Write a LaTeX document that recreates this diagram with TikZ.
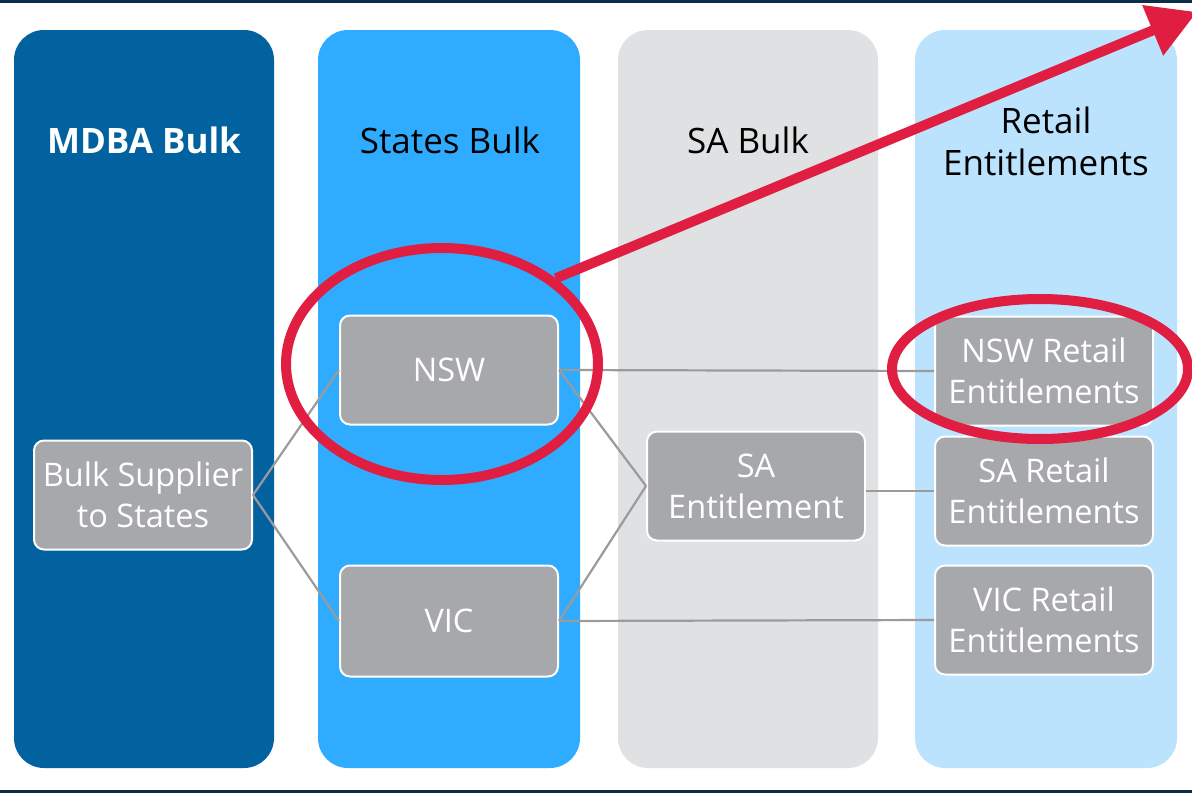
\documentclass[tikz,border=0pt]{standalone}
\usepackage{fontspec}
\setmainfont{Open Sans}
\usetikzlibrary{arrows.meta, shapes.geometric}

\definecolor{mdbablue}{HTML}{0262A0}
\definecolor{statesblue}{HTML}{2FACFF}
\definecolor{sagray}{HTML}{E0E1E3}
\definecolor{retailblue}{HTML}{BCE3FD}
\definecolor{boxgray}{HTML}{A7A8AC}
\definecolor{linkgray}{HTML}{9B9B9B}
\definecolor{ringred}{HTML}{E01E41}
\definecolor{barnavy}{HTML}{0B2D4A}

\tikzset{
  lane/.style={fill=#1, rounded corners=30pt},
  lanehead/.style={align=center, font=\fontsize{35}{42}\selectfont},
  entity/.style={draw=white, line width=2pt, fill=boxgray, rounded corners=10pt,
    minimum width=218pt, minimum height=109pt, inner sep=0pt, align=center,
    text=white, font=\fontsize{32.5}{41}\selectfont},
  link/.style={draw=linkgray, line width=2.2pt},
  ring/.style={draw=ringred, line width=10pt, ellipse, inner sep=0pt},
}

\begin{document}
\begin{tikzpicture}[x=1pt, y=-1pt]
\clip (0,0) rectangle (1192,793);
\fill[white] (0,0) rectangle (1192,793);
% top and bottom rules
\fill[barnavy] (0,0) rectangle (1192,3);
\fill[barnavy] (0,790) rectangle (1192,793);

% lanes
\fill[lane=mdbablue] (14,30) rectangle (274,768);
\fill[lane=statesblue] (318,30) rectangle (580,768);
\fill[lane=sagray] (618,30) rectangle (878,768);
\fill[lane=retailblue] (915,30) rectangle (1177,768);

% lane headings
\node[lanehead, text=white, font=\fontsize{35}{42}\selectfont\bfseries] (mdbahead) at (144,140) {MDBA Bulk};
\node[lanehead] (stateshead) at (450,140) {States Bulk};
\node[lanehead] (sahead) at (748,140) {SA Bulk};
\node[lanehead] (retailhead) at (1046,141) {Retail\\Entitlements};

% entities
\node[entity] (bulk) at (143,495) {Bulk Supplier\\to States};
\node[entity] (nsw) at (449,370) {NSW};
\node[entity, minimum height=111pt] (vic) at (449,621) {VIC};
\node[entity] (saent) at (756,486) {SA\\Entitlement};
\node[entity] (nswret) at (1044,371) {NSW Retail\\Entitlements};
\node[entity] (saret) at (1044,491) {SA Retail\\Entitlements};
\node[entity] (vicret) at (1044,620) {VIC Retail\\Entitlements};

% links
\draw[link] (bulk.east) -- (nsw.west);
\draw[link] (bulk.east) -- (vic.west);
\draw[link] (nsw.east) -- (saent.west);
\draw[link] (vic.east) -- (saent.west);
\draw[link] (nsw.east) -- (nswret.west);
\draw[link] (saent.east |- saret.west) -- (saret.west);
\draw[link] (vic.east) -- (vicret.west);

% highlight rings and arrow
\node[ring, minimum width=312pt, minimum height=232pt] (nswring) at (442,364) {};
\node[ring, minimum width=296pt, minimum height=140pt] (retring) at (1040,369) {};
\coordinate (tip) at (1197,12);
\draw[ringred, line width=10pt, -{Triangle[length=48pt, width=52pt]}] (nswring.37) -- (tip);
\end{tikzpicture}
\end{document}
